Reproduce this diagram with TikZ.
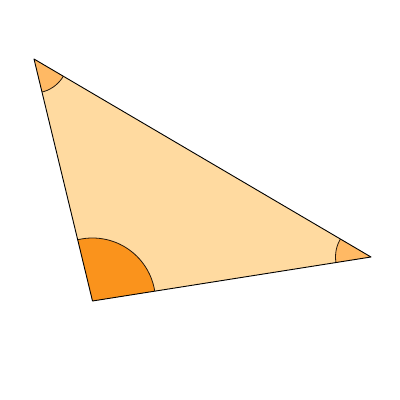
\documentclass[tikz,border=0pt]{standalone}
\definecolor{trifill}{RGB}{255,218,160}
\definecolor{smallang}{RGB}{255,185,100}
\definecolor{bigang}{RGB}{250,147,28}
\tikzset{edge/.style={draw=black,line width=0.9pt,line join=round},
  arcline/.style={draw=black!80!brown,line width=0.8pt}}
\begin{document}
\begin{tikzpicture}[x=1pt,y=-1pt]
\useasboundingbox (0,0) rectangle (400,400);
\coordinate (A) at (34,59);
\coordinate (B) at (371,257);
\coordinate (C) at (92.5,301);
\fill[trifill] (A) -- (B) -- (C) -- cycle;
\begin{scope}
\clip (A) -- (B) -- (C) -- cycle;
\filldraw[fill=smallang,arcline] (A) circle[radius=34];
\filldraw[fill=smallang,arcline] (B) circle[radius=35.5];
\filldraw[fill=bigang,arcline] (C) circle[radius=63];
\end{scope}
\draw[edge] (A) -- (B) -- (C) -- cycle;
\end{tikzpicture}
\end{document}
